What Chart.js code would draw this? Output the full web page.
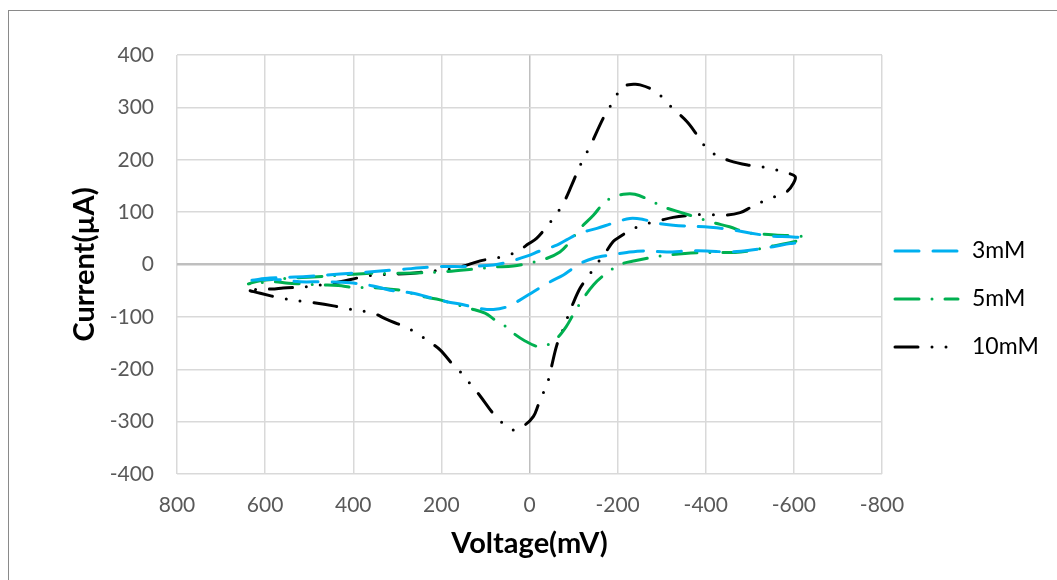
<!DOCTYPE html>
<html>
<head>
<meta charset="utf-8">
<script src="https://cdn.jsdelivr.net/npm/chart.js@4.4.1/dist/chart.umd.min.js"></script>
<style>
  html, body { margin: 0; padding: 0; background: #fff; overflow: hidden; }
  #frame { position: absolute; left: 8px; top: 10px; width: 1200px; height: 700px; border: 1px solid #8a8a8a; }
  #mycanvas { position: absolute; left: 0; top: 0; }
</style>
</head>
<body>
<div id="frame"></div>
<canvas id="mycanvas" width="1057" height="580"></canvas>
<script>
// 3mM
var v3 = [630, 589, 506, 430, 377, 300, 203, 143, 82, 52, 6, -24, -62, -84, -115, -153, -190, -228, -258, -289, -326, -410, -455, -500, -553, -591, -618,
          -614, -591, -553, -508, -455, -402, -364, -311, -258, -221, -183, -145, -115, -99, -77, -47, -9, 22, 52, 82, 112, 150, 188, 218, 264, 317, 355, 407, 468, 521, 581, 630];
var i3 = [-30, -26, -23, -18, -15, -10, -4, -4, -1, 4, 16, 26, 37, 47, 60, 69, 79, 88, 86, 79, 75, 71, 67, 60, 54, 53, 50,
          43, 40, 34, 28, 24, 26, 26, 24, 26, 23, 18, 12, 2, -7, -20, -33, -52, -68, -81, -86, -84, -77, -71, -65, -55, -49, -41, -35, -33, -33, -28, -30];

// 5mM
var v5 = [638, 612, 544, 491, 430, 370, 317, 256, 196, 128, 82, 37, -1, -31, -69, -92, -115, -145, -168, -190, -213, -239, -273, -304, -345, -376, -417, -454, -493, -531, -563, -599, -621,
          -621, -603, -576, -538, -500, -466, -410, -353, -296, -239, -209, -179, -145, -115, -99, -83, -62, -39, -20, 10, 37, 59, 78, 101, 135, 180, 211, 249, 286, 320, 355, 400, 434, 476, 513, 547, 581, 638];
var i5 = [-37, -31, -26, -24, -20, -17, -17, -16, -14, -9, -5, -3, 3, 9, 24, 44, 69, 94, 117, 129, 134, 134, 123, 110, 99, 91, 80, 72, 61, 58, 56, 55, 53,
          47, 44, 39, 33, 26, 23, 23, 21, 16, 7, 1, -14, -39, -74, -96, -119, -141, -154, -157, -146, -131, -115, -106, -93, -84, -73, -66, -60, -50, -47, -44, -44, -40, -39, -37, -36, -33, -37];

// 10mM
var v10 = [634, 611, 559, 498, 445, 415, 355, 324, 283, 256, 230, 203, 173, 150, 131, 112, 82, 59, 35, 10, -9, -20, -31, -43, -50, -62, -73, -84, -99, -115, -134, -151,
           -171, -190, -205, -228, -255, -296, -326, -364, -398, -440, -478, -504, -531, -561, -584, -599, -603,
           -584, -553, -525, -495, -455, -417, -394, -378, -357, -323, -302, -279, -251, -236, -211, -190, -169, -137, -117, -96, -77, -58, -39, -16, 3, 22, 48, 78, 112, 154, 188, 218, 271, 332, 362, 392, 430, 472, 502, 559, 585, 609, 634];
var i10 = [-50, -55, -65, -72, -79, -84, -93, -105, -119, -131, -146, -163, -192, -211, -232, -251, -285, -304, -316, -306, -290, -268, -246, -220, -195, -154, -131, -106, -74, -45, -22, -1,
           21, 44, 53, 65, 75, 84, 90, 94, 96, 94, 99, 110, 121, 131, 139, 155, 168,
           175, 182, 187, 190, 198, 212, 230, 250, 273, 300, 319, 334, 343, 344, 339, 311, 282, 225, 193, 152, 117, 93, 72, 50, 39, 28, 18, 12, 7, -4, -10, -12, -17, -19, -21, -26, -33, -39, -42, -45, -47, -46, -50];

var seriesNames = ['3mM', '5mM', '10mM'];
var xTicks = [800, 600, 400, 200, 0, -200, -400, -600, -800];
var yTicks = [400, 300, 200, 100, 0, -100, -200, -300, -400];

function pts(v, c) {
	var out = [];
	for (var k = 0; k < v.length; k++) {
		out.push({x: v[k], y: c[k]});
	}
	return out;
}

var FONT = 'Lato, "Open Sans", sans-serif';

// legend drawn as short styled lines next to the plot, like the spreadsheet one
var lineLegend = {
	id: 'lineLegend',
	afterDraw: function(chart) {
		var ctx = chart.ctx;
		var x0 = chart.chartArea.right + 12;
		chart.data.datasets.forEach(function(ds, k) {
			var y = 251 + k * 48;
			ctx.save();
			ctx.strokeStyle = ds.borderColor;
			ctx.lineWidth = ds.borderWidth;
			ctx.lineCap = ds.borderCapStyle;
			ctx.setLineDash(ds.borderDash);
			ctx.beginPath();
			ctx.moveTo(x0 + 1, y);
			ctx.lineTo(x0 + 64, y);
			ctx.stroke();
			ctx.restore();
			ctx.fillStyle = '#000';
			ctx.font = '23px ' + FONT;
			ctx.textBaseline = 'middle';
			ctx.textAlign = 'left';
			ctx.fillText(ds.label, x0 + 78, y);
		});
	}
};

var chartdata = {
	datasets: [
		{
			label: seriesNames[0],
			data: pts(v3, i3),
			borderColor: '#00B0F0',
			backgroundColor: '#00B0F0',
			borderWidth: 3,
			borderCapStyle: 'round',
			borderDash: [24, 14]
		},
		{
			label: seriesNames[1],
			data: pts(v5, i5),
			borderColor: '#00B050',
			backgroundColor: '#00B050',
			borderWidth: 3,
			borderCapStyle: 'round',
			borderDash: [24, 13, 0, 13]
		},
		{
			label: seriesNames[2],
			data: pts(v10, i10),
			borderColor: '#000000',
			backgroundColor: '#000000',
			borderWidth: 3,
			borderCapStyle: 'round',
			borderDash: [23, 14, 0, 14, 0, 14]
		}
	]
};

var ctx = document.getElementById('mycanvas');

var cvChart = new Chart(ctx, {
	type: 'scatter',
	data: chartdata,
	plugins: [lineLegend],
	options: {
		responsive: false,
		animation: false,
		devicePixelRatio: 1,
		showLine: true,
		elements: {
			point: { radius: 0, hoverRadius: 0 },
			line: { tension: 0.35, fill: false }
		},
		layout: { padding: { top: 55, right: 175, bottom: 0, left: 0 } },
		plugins: {
			legend: { display: false },
			tooltip: { enabled: false }
		},
		scales: {
			x: {
				type: 'linear',
				reverse: true,
				min: -800,
				max: 800,
				afterBuildTicks: function(scale) {
					scale.ticks = xTicks.map(function(t) { return {value: t}; });
				},
				afterFit: function(scale) { scale.height = 106; },
				border: { display: false },
				grid: {
					drawTicks: false,
					color: function(c) { return c.tick && c.tick.value === 0 ? '#bfbfbf' : '#d9d9d9'; },
					lineWidth: 1.5
				},
				ticks: {
					padding: 19,
					color: '#595959',
					font: { family: FONT, size: 21 },
					maxRotation: 0
				},
				title: {
					display: true,
					text: 'Voltage(mV)',
					color: '#000',
					font: { family: FONT, size: 29, weight: 'bold' },
					padding: { top: 0, bottom: 19 }
				}
			},
			y: {
				type: 'linear',
				min: -400,
				max: 400,
				afterBuildTicks: function(scale) {
					scale.ticks = yTicks.slice().reverse().map(function(t) { return {value: t}; });
				},
				afterFit: function(scale) { scale.width = 177; },
				border: { display: false },
				grid: {
					drawTicks: false,
					color: function(c) { return c.tick && c.tick.value === 0 ? '#bfbfbf' : '#d9d9d9'; },
					lineWidth: function(c) { return c.tick && c.tick.value === 0 ? 2.5 : 1.5; }
				},
				ticks: {
					padding: 23,
					color: '#595959',
					font: { family: FONT, size: 21 }
				},
				title: {
					display: true,
					text: 'Current(µA)',
					color: '#000',
					font: { family: FONT, size: 29, weight: 'bold' },
					padding: { top: 67, bottom: 0 }
				}
			}
		}
	}
});
</script>
</body>
</html>
